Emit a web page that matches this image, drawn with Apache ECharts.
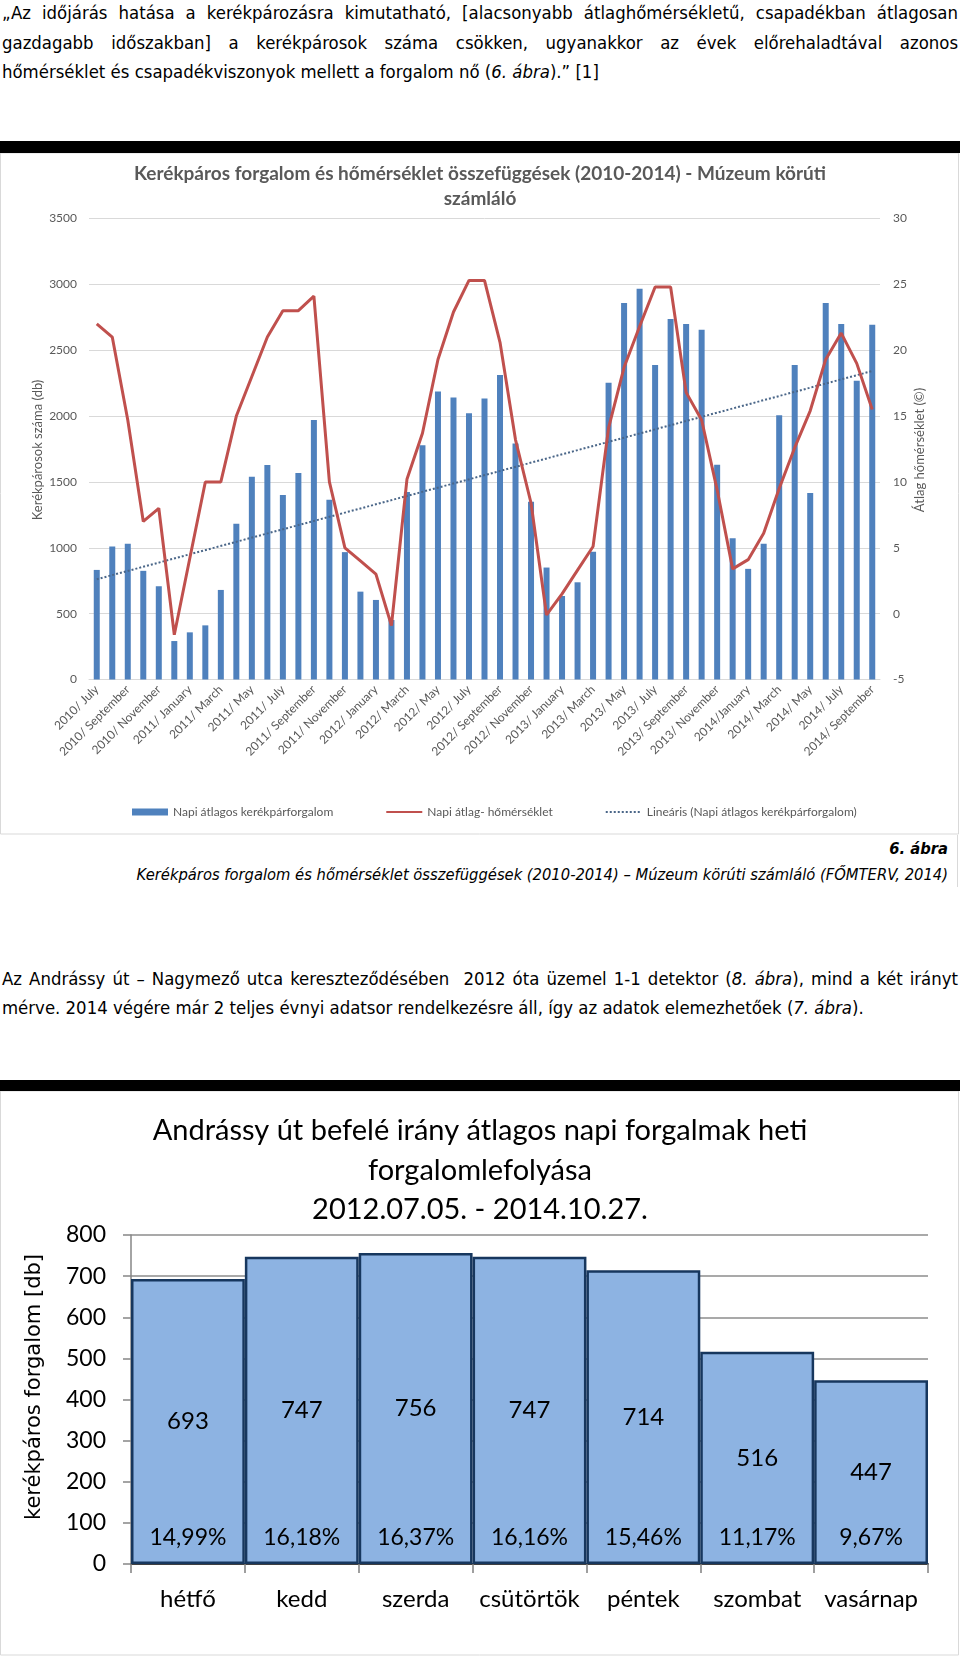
<!DOCTYPE html>
<html><head><meta charset="utf-8">
<script src="https://cdn.jsdelivr.net/npm/echarts@6/dist/echarts.min.js"></script>
<style>
html,body{margin:0;padding:0;background:#fff;}
body{width:960px;height:1657px;position:relative;overflow:hidden;font-family:"Liberation Sans Narrow","DejaVu Sans Condensed",sans-serif;color:#000;}
.ln{position:absolute;left:2px;width:956px;font-size:18.4px;height:30px;line-height:30px;white-space:normal;}
.j{text-align:justify;text-align-last:justify;}
.bar{position:absolute;left:0;width:960px;background:#000;}
.cap{position:absolute;right:12px;font-size:16.4px;font-style:italic;line-height:24px;text-align:right;}
</style></head>
<body>
<div class="ln j" style="top:-2px">„Az időjárás hatása a kerékpározásra kimutatható, [alacsonyabb átlaghőmérsékletű, csapadékban átlagosan</div>
<div class="ln j" style="top:27.5px">gazdagabb időszakban] a kerékpárosok száma csökken, ugyanakkor az évek előrehaladtával azonos</div>
<div class="ln" style="top:57px">hőmérséklet és csapadékviszonyok mellett a forgalom nő (<i>6. ábra</i>).” [1]</div>

<div class="bar" style="top:141px;height:12px"></div>
<div id="c1" style="position:absolute;left:0;top:153px;width:960px;height:682px"></div>

<div class="cap" style="top:837px;font-weight:bold">6. ábra</div>
<div class="cap" style="top:863px">Kerékpáros forgalom és hőmérséklet összefüggések (2010-2014) – Múzeum körúti számláló (FŐMTERV, 2014)</div>
<div style="position:absolute;left:957px;top:835px;width:1px;height:52px;background:#d9d9d9"></div>

<div class="ln j" style="top:964px">Az Andrássy út – Nagymező utca kereszteződésében&nbsp; 2012 óta üzemel 1-1 detektor (<i>8. ábra</i>), mind a két irányt</div>
<div class="ln" style="top:993px">mérve. 2014 végére már 2 teljes évnyi adatsor rendelkezésre áll, így az adatok elemezhetőek (<i>7. ábra</i>).</div>

<div class="bar" style="top:1080px;height:11px"></div>
<div id="c2" style="position:absolute;left:0;top:1091px;width:960px;height:566px"></div>

<script>
// ---------- Chart 1 data ----------
const months = [
 '2010/ July','2010/ August','2010/ September','2010/ October','2010/ November','2010/ December',
 '2011/ January','2011/ February','2011/ March','2011/ April','2011/ May','2011/ June',
 '2011/ July','2011/ August','2011/ September','2011/ October','2011/ November','2011/ December',
 '2012/ January','2012/ February','2012/ March','2012/ April','2012/ May','2012/ June',
 '2012/ July','2012/ August','2012/ September','2012/ October','2012/ November','2012/ December',
 '2013/ January','2013/ February','2013/ March','2013/ April','2013/ May','2013/ June',
 '2013/ July','2013/ August','2013/ September','2013/ October','2013/ November','2013/ December',
 '2014/January','2014/ February','2014/ March','2014/ April','2014/ May','2014/ June',
 '2014/ July','2014/ August','2014/ September'
];
const traffic = [832,1010,1030,825,708,292,358,411,680,1182,
 1540,1629,1400,1568,1971,1365,967,667,604,452,
 1423,1778,2187,2141,2022,2134,2311,1791,1350,850,
 634,738,969,2253,2859,2966,2387,2737,2699,2656,
 1631,1073,840,1030,2007,2387,1416,2859,2699,2268,2694];
const temperature = [22.0,21.0,14.7,7.0,8.0,-1.6,4.2,10.0,10.0,15.0,
 18.0,21.0,23.0,23.0,24.1,10.0,5.0,4.0,3.0,-0.9,
 10.2,13.7,19.3,22.9,25.3,25.3,20.6,13.2,8.4,-0.1,
 1.5,3.3,5.1,14.1,18.7,21.8,24.8,24.8,16.8,14.7,
 9.4,3.4,4.1,6.1,9.5,12.6,15.4,19.3,21.3,19.0,15.5];
const trendEnds = [761, 2342];

// ---------- Chart 2 data ----------
const days = ['hétfő','kedd','szerda','csütörtök','péntek','szombat','vasárnap'];
const dailyAvg = [693,747,756,747,714,516,447];
const dailyPct = ['14,99%','16,18%','16,37%','16,16%','15,46%','11,17%','9,67%'];

const F = 'Lato, "Open Sans", sans-serif';
const gray = '#595959';
const plain = v => String(v);

const c1 = echarts.init(document.getElementById('c1'));
c1.setOption({
  animation:false,
  textStyle:{fontFamily:F},
  title:{
    text:'Kerékpáros forgalom és hőmérséklet összefüggések (2010-2014) - Múzeum körúti\nszámláló',
    left:'center', top:3,
    textStyle:{fontFamily:F,fontSize:19,fontWeight:'bold',color:gray,lineHeight:25}
  },
  grid:{left:89,right:80,top:65.5,bottom:155.5,containLabel:false,outerBoundsMode:'none'},
  legend:{
    left:127, top:648, itemWidth:36, itemHeight:7, itemGap:52,
    textStyle:{fontFamily:F,fontSize:12,color:gray},
    data:[{name:'Napi átlagos kerékpárforgalom',icon:'rect'},
          {name:'Napi átlag- hőmérséklet',itemStyle:{opacity:0}},
          {name:'Lineáris (Napi átlagos kerékpárforgalom)',itemStyle:{opacity:0}}]
  },
  xAxis:{
    type:'category', data:months,
    axisLine:{lineStyle:{color:'#d9d9d9'}},
    axisTick:{show:false},
    axisLabel:{interval:1,rotate:45,fontSize:12,color:gray,margin:8,fontFamily:F}
  },
  yAxis:[
    {type:'value',min:0,max:3500,interval:500,
     axisLine:{show:false},axisTick:{show:false},
     axisLabel:{fontSize:12,color:gray,margin:12,fontFamily:F,formatter:plain},
     splitLine:{lineStyle:{color:'#d9d9d9'}}},
    {type:'value',min:-5,max:30,interval:5,position:'right',
     axisLine:{show:false},axisTick:{show:false},
     axisLabel:{fontSize:12,color:gray,margin:13,fontFamily:F,formatter:plain},
     splitLine:{show:false}}
  ],
  series:[
    {name:'Napi átlagos kerékpárforgalom',type:'bar',data:traffic,barWidth:6,
     itemStyle:{color:'#4f81bd'}},
    {name:'Napi átlag- hőmérséklet',type:'line',yAxisIndex:1,data:temperature,
     symbol:'none',lineStyle:{color:'#c0504d',width:3},itemStyle:{color:'#c0504d'},z:5},
    {name:'Lineáris (Napi átlagos kerékpárforgalom)',type:'line',
     data:[[months[0],trendEnds[0]],[months[months.length-1],trendEnds[1]]],
     symbol:'none',lineStyle:{color:'#4a6688',width:2,type:'dotted'},itemStyle:{color:'#4a6688'},z:4}
  ],
  graphic:[
    {type:'rect',shape:{x:0.5,y:0,width:958,height:681},style:{fill:'none',stroke:'#d9d9d9',lineWidth:1},silent:true},
    {type:'text',x:38,y:297,rotation:Math.PI/2,style:{text:'Kerékpárosok száma (db)',fontFamily:F,fontSize:13,fill:gray,textAlign:'center',textVerticalAlign:'middle'}},
    {type:'text',x:920,y:297,rotation:Math.PI/2,style:{text:'Átlag hőmérséklet (©)',fontFamily:F,fontSize:13,fill:gray,textAlign:'center',textVerticalAlign:'middle'}}
  ]
});

const c2 = echarts.init(document.getElementById('c2'));
c2.setOption({
  animation:false,
  textStyle:{fontFamily:F},
  title:{
    text:'Andrássy út befelé irány átlagos napi forgalmak heti\nforgalomlefolyása\n2012.07.05. - 2014.10.27.',
    left:'center', top:15,
    textStyle:{fontFamily:F,fontSize:29,fontWeight:'normal',color:'#000',lineHeight:39.5}
  },
  grid:{left:131,right:32,top:144,bottom:93,containLabel:false,outerBoundsMode:'none'},
  xAxis:{
    type:'category',data:days,
    axisLine:{lineStyle:{color:'#404040',width:2}},
    axisTick:{show:true,length:9,lineStyle:{color:'#808080',width:1.5}},
    axisLabel:{interval:0,fontSize:24,color:'#000',margin:23,fontFamily:F}
  },
  yAxis:{
    type:'value',min:0,max:800,interval:100,
    axisLine:{show:true,lineStyle:{color:'#868686',width:1.5}},
    axisTick:{show:true,length:8,lineStyle:{color:'#868686',width:1.5}},
    axisLabel:{fontSize:23,color:'#000',margin:25,fontFamily:F},
    splitLine:{lineStyle:{color:'#8c8c8c',width:1.5}}
  },
  series:[
    {type:'bar',data:dailyAvg,barCategoryGap:'0%',barGap:'-100%',
     itemStyle:{color:'#8db3e2',borderColor:'#17375e',borderWidth:2.5},
     label:{show:true,position:'inside',fontSize:24,color:'#000',fontFamily:F}},
    {type:'bar',data:dailyAvg,barCategoryGap:'0%',barGap:'-100%',z:3,
     itemStyle:{color:'rgba(0,0,0,0)',borderWidth:0},
     label:{show:true,position:'insideBottom',distance:15,fontSize:23,color:'#000',fontFamily:F,
       formatter:p=>dailyPct[p.dataIndex]}}
  ],
  graphic:[
    {type:'rect',shape:{x:0.5,y:0,width:958,height:564},style:{fill:'none',stroke:'#d9d9d9',lineWidth:1},silent:true},
    {type:'text',x:35,y:296,rotation:Math.PI/2,style:{text:'kerékpáros forgalom [db]',fontFamily:'"DejaVu Sans", Verdana, sans-serif',fontSize:21,fill:'#000',textAlign:'center',textVerticalAlign:'middle'}}
  ]
});
</script>
</body></html>
